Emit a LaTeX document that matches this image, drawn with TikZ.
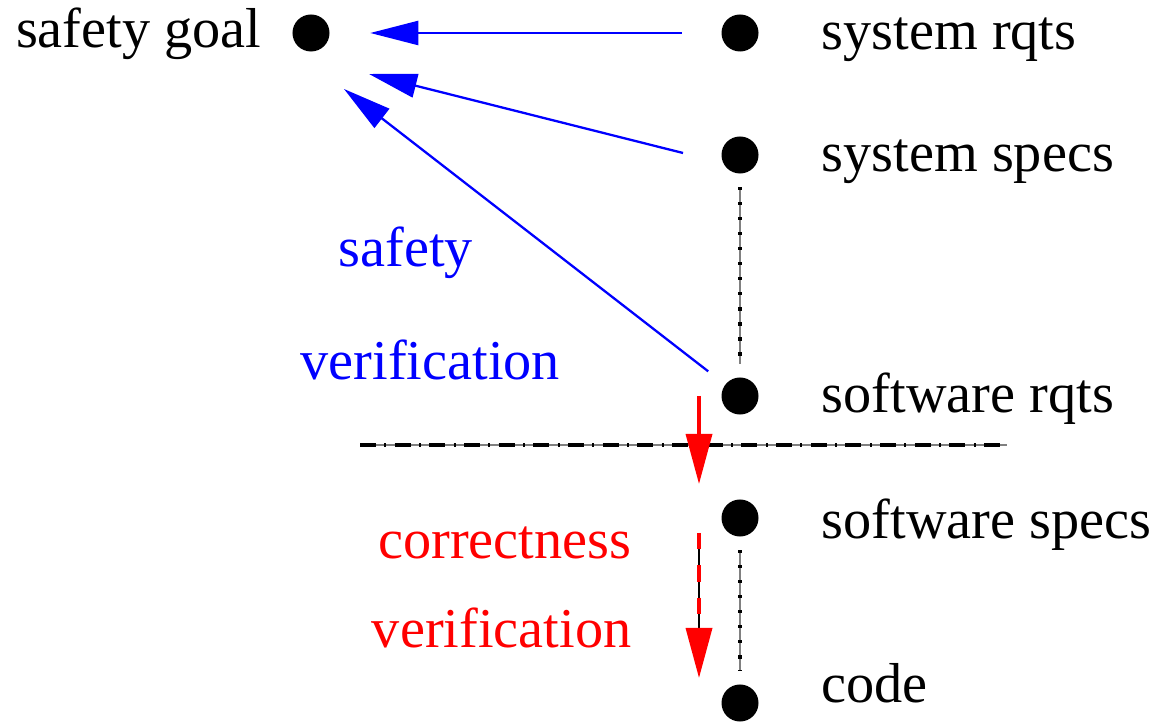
\documentclass[tikz,border=0pt]{standalone}
\usepackage{fontspec}
\setmainfont{Liberation Serif}
\usetikzlibrary{arrows.meta}
\begin{document}
\begin{tikzpicture}[x=0.01cm,y=-0.01cm,
                every node/.style={font=\fontsize{16}{19}\selectfont,inner sep=0pt},
                dot/.style={circle,fill=black,minimum size=0.37cm},
                lbl/.style={anchor=base west},
                safe/.style={blue,line width=0.65pt,-{Triangle[length=0.48cm,width=0.24cm]}},
                corr/.style={red,line width=1pt,-{Triangle[length=0.5cm,width=0.26cm]}},
                trace/.style={gray,line width=0.35pt,shorten <=0.13cm,shorten >=0.13cm,
                    postaction={draw=black,line width=0.9pt,dash pattern=on 0.9pt off 3.37pt}}]
                \useasboundingbox (0,0) rectangle (1158,722);
                % dots
                \node[dot] (goal) at (311,33) {};
                \node[dot] (sysrqts) at (740,33) {};
                \node[dot] (sysspecs) at (740,155) {};
                \node[dot] (swrqts) at (740,396) {};
                \node[dot] (swspecs) at (740,518) {};
                \node[dot] (code) at (740,703) {};
                % labels
                \node[anchor=base east] (goal-l) at (262,48) {safety goal};
                \node[lbl] (sysrqts-l) at (821,50) {system rqts};
                \node[lbl] (sysspecs-l) at (821,172) {system specs};
                \node[lbl] (swrqts-l) at (821,413) {software rqts};
                \node[lbl] (swspecs-l) at (821,538) {software specs};
                \node[lbl] (code-l) at (821,702) {code};
                \node[lbl,blue] (safe-a) at (338,267) {safety};
                \node[lbl,blue] (safe-b) at (300,380) {verification};
                \node[anchor=base east,red] (corr-a) at (632,558) {correctness};
                \node[anchor=base east,red] (corr-b) at (632,647) {verification};
                % safety verification
                \coordinate (s2) at (683,153);
                \coordinate (t2) at (369,74);
                \coordinate (t3) at (344,89);
                \draw[safe,shorten <=0.39cm,shorten >=0.40cm] (sysrqts) -- (goal);
                \draw[safe] (s2) -- (t2);
                \draw[safe,shorten <=0.21cm] (swrqts) -- (t3);
                % refinement
                \draw[trace] (sysspecs) -- (swrqts);
                \draw[trace] (swspecs) -- (code);
                % cut
                \coordinate (cutl) at (360,445);
                \coordinate (cutr) at (1007,445);
                \draw[gray,line width=0.35pt] (cutl) -- (cutr);
                \draw[line width=0.9pt,dash pattern=on 4.55pt off 2.37pt on 0.57pt off 2.37pt] (cutl) -- (cutr);
                % correctness verification
                \coordinate (r1) at (699,396);
                \coordinate (r1t) at (699,484);
                \coordinate (r2) at (699,533);
                \coordinate (r2t) at (699,678);
                \draw[corr] (r1) -- (r1t);
                \draw[line width=0.35pt,shorten >=0.45cm] (r2) -- (r2t);
                \draw[corr,dash pattern=on 4.6pt off 4.6pt] (r2) -- (r2t);
            \end{tikzpicture}
\end{document}
